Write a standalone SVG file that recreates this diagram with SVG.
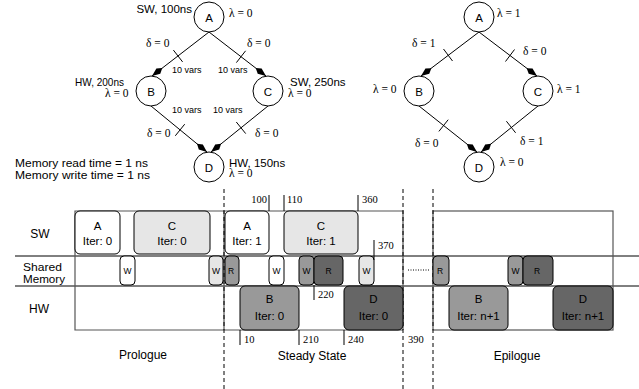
<svg xmlns="http://www.w3.org/2000/svg" width="639" height="389" viewBox="0 0 639 389">
<style>
.sans{font-family:"Liberation Sans",Arial,sans-serif;font-size:11.5px;fill:#000}
.big{font-family:"Liberation Sans",Arial,sans-serif;font-size:12px;fill:#000}
.two{font-family:"Liberation Sans",Arial,sans-serif;font-size:10.5px;fill:#000}
.sm{font-family:"Liberation Sans",Arial,sans-serif;font-size:9px;fill:#000}
.mw{font-family:"Liberation Sans",Arial,sans-serif;font-size:8.5px;fill:#000}
.math{font-family:"Liberation Serif","Times New Roman",serif;font-size:11.5px;fill:#000}
.num{font-family:"Liberation Serif","Times New Roman",serif;font-size:10.5px;fill:#000}
.c{text-anchor:middle}
.e{text-anchor:end}
.circ{fill:#fff;stroke:#000;stroke-width:1}
.edge{stroke:#000;stroke-width:1;fill:none}
.tick{stroke:#000;stroke-width:1}
.blk{stroke:#000;stroke-width:1}
.wh{fill:#fff}
.lt{fill:#e6e6e6}
.md{fill:#999}
.dk{fill:#666}
.dash{stroke:#000;stroke-width:1;stroke-dasharray:4,3}
.frame{stroke:#555;stroke-width:1.2;fill:none}
.lane{stroke:#000;stroke-width:1}
.mk{stroke:#000;stroke-width:1}
</style>
<defs>
<marker id="arr" markerUnits="userSpaceOnUse" markerWidth="16" markerHeight="10" refX="0" refY="0" viewBox="-14 -5 16 10" orient="auto">
<path d="M0,0 L-8,-3.2 L-13,0 L-8,3.2 Z" fill="#000"/>
</marker>
</defs>

<!-- Left graph -->
<g id="connectors-left">
<line class="edge" x1="209" y1="32" x2="152" y2="76" marker-end="url(#arr)"/>
<line class="edge" x1="209" y1="32" x2="266" y2="76" marker-end="url(#arr)"/>
<line class="edge" x1="151" y1="106" x2="207" y2="152" marker-end="url(#arr)"/>
<line class="edge" x1="268" y1="106" x2="211" y2="152" marker-end="url(#arr)"/>
<line class="tick" x1="173.4" y1="50.1" x2="182.6" y2="61.9"/>
<line class="tick" x1="245.6" y1="50.8" x2="236.4" y2="62.6"/>
<line class="tick" x1="175.3" y1="135.8" x2="184.7" y2="124.2"/>
<line class="tick" x1="236.3" y1="122" x2="245.7" y2="133.6"/>
<text class="math" x="146" y="46.5">δ = 0</text>
<text class="math" x="247" y="46.5">δ = 0</text>
<text class="sm" x="172" y="73">10 vars</text>
<text class="sm" x="218" y="73">10 vars</text>
<text class="sm" x="172" y="113">10 vars</text>
<text class="sm" x="213" y="113">10 vars</text>
<text class="math" x="147" y="136.5">δ = 0</text>
<text class="math" x="255" y="136.5">δ = 0</text>
</g>
<g id="L-A">
<circle class="circ" cx="209" cy="17" r="15"/>
<text class="sans c" x="209" y="21.5">A</text>
<text class="sans e" x="192" y="13">SW, 100ns</text>
<text class="math" x="229" y="16.5">λ = 0</text>
</g>
<g id="L-B">
<circle class="circ" cx="151" cy="91" r="15"/>
<text class="sans c" x="151" y="95.5">B</text>
<text class="sans" x="75" y="86" textLength="49" lengthAdjust="spacingAndGlyphs">HW, 200ns</text>
<text class="math" x="105" y="97">λ = 0</text>
</g>
<g id="L-C">
<circle class="circ" cx="268" cy="91" r="15"/>
<text class="sans c" x="268" y="95.5">C</text>
<text class="sans" x="290" y="86">SW, 250ns</text>
<text class="math" x="288" y="97">λ = 0</text>
</g>
<g id="L-D">
<circle class="circ" cx="209" cy="167" r="15"/>
<text class="sans c" x="209" y="171.5">D</text>
<text class="sans" x="229" y="166.5">HW, 150ns</text>
<text class="math" x="229" y="177">λ = 0</text>
</g>
<g id="mem-note">
<text class="two" x="15" y="166.5" textLength="133" lengthAdjust="spacingAndGlyphs">Memory read time = 1 ns</text>
<text class="two" x="15" y="178.5" textLength="135" lengthAdjust="spacingAndGlyphs">Memory write time = 1 ns</text>
</g>

<!-- Right graph -->
<g id="connectors-right">
<line class="edge" x1="479" y1="32" x2="421" y2="76" marker-end="url(#arr)"/>
<line class="edge" x1="479" y1="32" x2="537" y2="76" marker-end="url(#arr)"/>
<line class="edge" x1="419" y1="106" x2="477" y2="152" marker-end="url(#arr)"/>
<line class="edge" x1="538" y1="106" x2="481" y2="152" marker-end="url(#arr)"/>
<line class="tick" x1="443.5" y1="49" x2="452.5" y2="61"/>
<line class="tick" x1="514.5" y1="49.5" x2="505.5" y2="61.5"/>
<line class="tick" x1="438.9" y1="131.4" x2="448.2" y2="119.7"/>
<line class="tick" x1="506.4" y1="121.2" x2="515.6" y2="132.8"/>
<text class="math" x="412" y="47">δ = 1</text>
<text class="math" x="523" y="54.5">δ = 0</text>
<text class="math" x="415" y="147">δ = 0</text>
<text class="math" x="520" y="145">δ = 1</text>
</g>
<g id="R-A">
<circle class="circ" cx="479" cy="17" r="15"/>
<text class="sans c" x="479" y="21.5">A</text>
<text class="math" x="497" y="17">λ = 1</text>
</g>
<g id="R-B">
<circle class="circ" cx="419" cy="91" r="15"/>
<text class="sans c" x="419" y="95.5">B</text>
<text class="math" x="373" y="92.5">λ = 0</text>
</g>
<g id="R-C">
<circle class="circ" cx="538" cy="91" r="15"/>
<text class="sans c" x="538" y="95.5">C</text>
<text class="math" x="557" y="92.5">λ = 1</text>
</g>
<g id="R-D">
<circle class="circ" cx="479" cy="167" r="15"/>
<text class="sans c" x="479" y="171.5">D</text>
<text class="math" x="500" y="166">λ = 0</text>
</g>

<!-- Schedule chart -->
<g id="chart-frame">
<line class="lane" x1="15" y1="256" x2="639" y2="256"/>
<line class="lane" x1="15" y1="286" x2="639" y2="286"/>
<polyline class="frame" points="403,330 75,330 75,211 403,211 403,330"/>
<line class="frame" x1="224" y1="211" x2="224" y2="330"/>
<rect class="frame" x="433" y="211" width="180" height="119"/>
<line class="dash" x1="224" y1="189" x2="224" y2="389"/>
<line class="dash" x1="403" y1="189" x2="403" y2="389"/>
<line class="dash" x1="433" y1="189" x2="433" y2="389"/>
<line x1="408" y1="270" x2="430" y2="270" stroke="#000" stroke-width="1" stroke-dasharray="1,1.5"/>
<text class="big c" x="40" y="237.5">SW</text>
<text class="two" x="23" y="271" textLength="39" lengthAdjust="spacingAndGlyphs">Shared</text>
<text class="two" x="23" y="282.5" textLength="42" lengthAdjust="spacingAndGlyphs">Memory</text>
<text class="big c" x="39" y="313">HW</text>
<text class="big c" x="143" y="359">Prologue</text>
<text class="big c" x="312" y="360">Steady State</text>
<text class="big c" x="517" y="360">Epilogue</text>
</g>

<g id="sw-A0"><rect class="blk wh" x="75" y="211" width="45" height="43" rx="5"/><text class="sans c" x="97.5" y="230">A</text><text class="sans c" x="97.5" y="245">Iter: 0</text></g>
<g id="sw-C0"><rect class="blk lt" x="134" y="211" width="76" height="43" rx="5"/><text class="sans c" x="172" y="230">C</text><text class="sans c" x="172" y="245">Iter: 0</text></g>
<g id="sw-A1"><rect class="blk wh" x="225" y="211" width="44" height="43" rx="5"/><text class="sans c" x="247" y="230">A</text><text class="sans c" x="247" y="245">Iter: 1</text></g>
<g id="sw-C1"><rect class="blk lt" x="284" y="211" width="74" height="43" rx="5"/><text class="sans c" x="321" y="230">C</text><text class="sans c" x="321" y="245">Iter: 1</text></g>

<g id="mem-W1"><rect class="blk wh" x="120" y="256" width="15" height="29" rx="4"/><text class="mw c" x="127.5" y="273.5">W</text></g>
<g id="mem-W2"><rect class="blk lt" x="209" y="256" width="14" height="29" rx="4"/><text class="mw c" x="216" y="273.5">W</text></g>
<g id="mem-R1"><rect class="blk md" x="225" y="256" width="14" height="29" rx="4"/><text class="mw c" x="231" y="273.5">R</text></g>
<g id="mem-W3"><rect class="blk wh" x="269" y="256" width="15" height="29" rx="4"/><text class="mw c" x="276.5" y="273.5">W</text></g>
<g id="mem-W4"><rect class="blk md" x="299" y="256" width="15" height="29" rx="4"/><text class="mw c" x="306.5" y="273.5">W</text></g>
<g id="mem-R2"><rect class="blk dk" x="314" y="256" width="29" height="29" rx="4"/><text class="mw c" x="328.5" y="273.5">R</text></g>
<g id="mem-W5"><rect class="blk lt" x="359" y="256" width="15" height="29" rx="4"/><text class="mw c" x="366.5" y="273.5">W</text></g>
<g id="mem-R3"><rect class="blk md" x="433" y="256" width="16" height="29" rx="4"/><text class="mw c" x="440" y="273.5">R</text></g>
<g id="mem-W6"><rect class="blk md" x="508" y="256" width="15" height="29" rx="4"/><text class="mw c" x="515.5" y="273.5">W</text></g>
<g id="mem-R4"><rect class="blk dk" x="523" y="256" width="30" height="29" rx="4"/><text class="mw c" x="537" y="273.5">R</text></g>

<g id="hw-B0"><rect class="blk md" x="240" y="286" width="59" height="44" rx="5"/><text class="sans c" x="269.5" y="303">B</text><text class="sans c" x="269.5" y="320">Iter: 0</text></g>
<g id="hw-D0"><rect class="blk dk" x="344" y="286" width="59" height="44" rx="5"/><text class="sans c" x="373.5" y="303">D</text><text class="sans c" x="373.5" y="320">Iter: 0</text></g>
<g id="hw-B1"><rect class="blk md" x="449" y="286" width="59" height="44" rx="5"/><text class="sans c" x="478.5" y="303">B</text><text class="sans c" x="478.5" y="320">Iter: n+1</text></g>
<g id="hw-D1"><rect class="blk dk" x="553" y="286" width="60" height="44" rx="5"/><text class="sans c" x="583" y="303">D</text><text class="sans c" x="583" y="320">Iter: n+1</text></g>

<g id="time-marks">
<line class="mk" x1="269" y1="195" x2="269" y2="211"/><text class="num e" x="267" y="203">100</text>
<line class="mk" x1="284" y1="195" x2="284" y2="211"/><text class="num" x="287" y="203">110</text>
<line class="mk" x1="358" y1="195" x2="358" y2="211"/><text class="num" x="362" y="203">360</text>
<line class="mk" x1="374" y1="240" x2="374" y2="260"/><text class="num" x="378" y="249">370</text>
<line class="mk" x1="314" y1="285" x2="314" y2="300"/><text class="num" x="318" y="298">220</text>
<line class="mk" x1="240" y1="330" x2="240" y2="345"/><text class="num" x="244" y="343">10</text>
<line class="mk" x1="299" y1="330" x2="299" y2="345"/><text class="num" x="303" y="343">210</text>
<line class="mk" x1="344" y1="330" x2="344" y2="345"/><text class="num" x="348" y="343">240</text>
<text class="num" x="408" y="343">390</text>
</g>
</svg>
